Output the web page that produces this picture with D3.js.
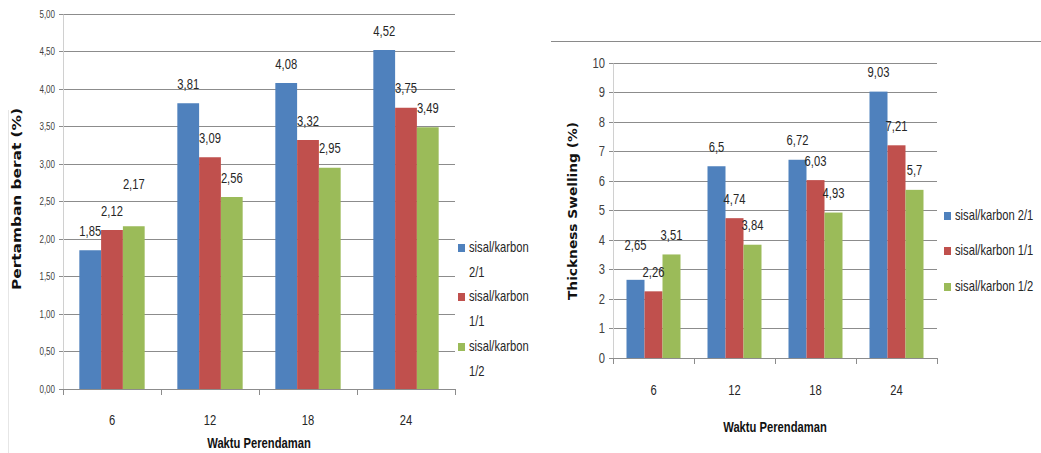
<!DOCTYPE html>
<html>
<head>
<meta charset="utf-8">
<script src="https://cdn.jsdelivr.net/npm/d3@7"></script>
<style>
  html, body { margin: 0; padding: 0; background: #fff; }
  svg { display: block; }
  .narrow { font-family: "Liberation Sans", Arial, sans-serif; }
</style>
</head>
<body>
<svg id="fig" width="1041" height="453"></svg>
<script>
// Soaking time (hours) on the category axis
const categories = ["6", "12", "18", "24"];
const seriesNames = ["sisal/karbon 2/1", "sisal/karbon 1/1", "sisal/karbon 1/2"];
const seriesColors = ["#4F81BD", "#C0504D", "#9BBB59"];

// Weight gain (%)
const weightGain21 = [1.85, 3.81, 4.08, 4.52];
const weightGain11 = [2.12, 3.09, 3.32, 3.75];
const weightGain12 = [2.17, 2.56, 2.95, 3.49];
const weightTicks = [0, 0.5, 1, 1.5, 2, 2.5, 3, 3.5, 4, 4.5, 5];

// Thickness swelling (%)
const swelling21 = [2.65, 6.5, 6.72, 9.03];
const swelling11 = [2.26, 4.74, 6.03, 7.21];
const swelling12 = [3.51, 3.84, 4.93, 5.7];
const swellingTicks = [0, 1, 2, 3, 4, 5, 6, 7, 8, 9, 10];

const svg = d3.select("#fig");
const gridColor = "#8c8c8c";
const comma = v => String(v).replace(".", ",");
const NARROW = 0.8;

// squeeze a text horizontally to imitate a condensed face
function condense(sel, f) {
  sel.each(function () {
    const len = this.getComputedTextLength();
    d3.select(this).attr("textLength", len * f).attr("lengthAdjust", "spacingAndGlyphs");
  });
}

function drawChart(o) {
  const g = svg.append("g");
  const y = d3.scaleLinear().domain(o.yDomain).range([o.bottom, o.top]);
  const x0 = d3.scaleBand().domain(categories).range([o.left, o.right]).padding(0);
  const bw = x0.bandwidth();
  const barW = bw / 4.5;
  const x1 = d3.scaleBand().domain(d3.range(seriesNames.length))
    .range([0.75 * barW, 0.75 * barW + 3 * barW]).padding(0);

  // gridlines
  g.append("g").selectAll("line").data(o.ticks).join("line")
    .attr("x1", o.left - 4).attr("x2", o.right)
    .attr("y1", d => y(d)).attr("y2", d => y(d))
    .attr("stroke", gridColor).attr("stroke-width", 1).attr("shape-rendering", "crispEdges");

  // value axis
  const yAxis = d3.axisLeft(y).tickValues(o.ticks).tickFormat(o.tickFormat).tickSize(0).tickPadding(o.tickPad);
  const ya = g.append("g").attr("transform", `translate(${o.left},0)`).call(yAxis);
  ya.select(".domain").attr("stroke", "#d0d0d0");
  ya.selectAll("text").attr("class", "narrow").attr("font-size", o.tickFont).attr("fill", "#404040")
    .attr("font-family", null);
  condense(ya.selectAll("text"), NARROW);

  // bars
  const series = o.values.map((vals, si) => vals.map((v, ci) => ({ si, ci, v })));
  const flat = series.flat();
  g.append("g").selectAll("rect").data(flat).join("rect")
    .attr("x", d => x0(categories[d.ci]) + x1(d.si))
    .attr("width", x1.bandwidth())
    .attr("y", d => y(d.v))
    .attr("height", d => y(0) - y(d.v))
    .attr("fill", d => seriesColors[d.si]);

  // category axis
  const xa = g.append("g").attr("transform", `translate(0,${o.bottom})`);
  xa.append("line").attr("x1", o.left).attr("x2", o.right).attr("stroke", gridColor).attr("shape-rendering", "crispEdges");
  const bounds = categories.map(c => x0(c)).concat([o.right]);
  xa.selectAll("line.tk").data(bounds).join("line").attr("class", "tk")
    .attr("x1", d => d).attr("x2", d => d).attr("y1", 0).attr("y2", 6)
    .attr("stroke", gridColor).attr("shape-rendering", "crispEdges");
  const catText = xa.selectAll("text").data(categories).join("text").attr("class", "narrow")
    .attr("x", d => x0(d) + bw / 2).attr("y", o.catLabelY - o.bottom)
    .attr("text-anchor", "middle").attr("dominant-baseline", "central")
    .attr("font-size", 14).attr("fill", "#262626").text(d => d);
  condense(catText, NARROW);

  // data labels: lower labels placed first, higher ones lifted when they collide
  const labelH = 17, labelW = 25;
  const placed = [];
  categories.forEach((c, ci) => {
    const group = flat.filter(d => d.ci === ci).sort((a, b) => a.v - b.v);
    group.forEach(d => {
      const cx = x0(c) + x1(d.si) + x1.bandwidth() / 2;
      let cy = y(d.v) - 19.5;
      placed.forEach(p => {
        if (p.ci === ci && Math.abs(p.cx - cx) < labelW && Math.abs(p.cy - cy) < labelH) {
          cy = p.cy - 27;
        }
      });
      placed.push({ ci, cx, cy, v: d.v });
    });
  });
  const valText = g.append("g").selectAll("text").data(placed).join("text").attr("class", "narrow")
    .attr("x", d => d.cx).attr("y", d => d.cy)
    .attr("text-anchor", "middle").attr("dominant-baseline", "central")
    .attr("font-size", 14).attr("fill", "#262626").text(d => comma(d.v));
  condense(valText, NARROW);

  // axis titles
  g.append("text")
    .attr("transform", `translate(${o.yTitleX},${o.yTitleY}) rotate(-90)`)
    .attr("text-anchor", "middle").attr("dominant-baseline", "central")
    .attr("font-family", "DejaVu Sans, Verdana, sans-serif").attr("font-weight", "bold")
    .attr("font-size", 12).attr("fill", "#111")
    .attr("textLength", o.yTitleLen).attr("lengthAdjust", "spacingAndGlyphs")
    .text(o.yTitle);
  const xt = g.append("text").attr("class", "narrow")
    .attr("x", o.xTitleX).attr("y", o.xTitleY)
    .attr("text-anchor", "middle").attr("dominant-baseline", "central")
    .attr("font-weight", "bold").attr("font-size", 14).attr("fill", "#111")
    .text("Waktu Perendaman");
  condense(xt, NARROW);

  // legend: swatch plus a horizontally compressed label group
  const lg = g.append("g");
  seriesNames.forEach((name, i) => {
    const rowY = o.legendY[i];
    lg.append("rect").attr("x", o.legendX).attr("y", rowY - 4).attr("width", 7).attr("height", 8)
      .attr("fill", seriesColors[i]);
    const lines = o.legendWrap ? name.split(" ") : [name];
    const tg = lg.append("g").attr("transform", `translate(${o.legendX + 11},${rowY}) scale(${NARROW},1)`);
    tg.selectAll("text").data(lines).join("text").attr("class", "narrow")
      .attr("x", 0).attr("y", (d, li) => li * o.legendLine)
      .attr("dominant-baseline", "central")
      .attr("font-size", 14).attr("fill", "#262626").text(d => d);
  });
}

drawChart({
  values: [weightGain21, weightGain11, weightGain12],
  yDomain: [0, 5], ticks: weightTicks, tickFormat: d => d3.format(".2f")(d).replace(".", ","),
  tickFont: 10, tickPad: 8,
  left: 63, right: 455, top: 14, bottom: 389,
  catLabelY: 420,
  yTitle: "Pertamban berat (%)", yTitleX: 17, yTitleY: 199, yTitleLen: 182,
  xTitleX: 259, xTitleY: 443,
  legendX: 458, legendY: [248, 297, 347], legendWrap: true, legendLine: 24.5
});

drawChart({
  values: [swelling21, swelling11, swelling12],
  yDomain: [0, 10], ticks: swellingTicks, tickFormat: d => String(d),
  tickFont: 14, tickPad: 8,
  left: 613, right: 937, top: 63, bottom: 358,
  catLabelY: 390,
  yTitle: "Thickness Swelling (%)", yTitleX: 573, yTitleY: 211, yTitleLen: 178,
  xTitleX: 775, xTitleY: 427,
  legendX: 944, legendY: [216, 251, 287], legendWrap: false, legendLine: 0
});

// frame fragments around the two charts
svg.append("line").attr("x1", 551).attr("x2", 1041).attr("y1", 41.5).attr("y2", 41.5)
  .attr("stroke", "#8a8a8a").attr("stroke-width", 1.2);
svg.append("line").attr("x1", 8.5).attr("x2", 8.5).attr("y1", 110).attr("y2", 453)
  .attr("stroke", "#e6e6e6").attr("stroke-width", 1);
</script>
</body>
</html>
